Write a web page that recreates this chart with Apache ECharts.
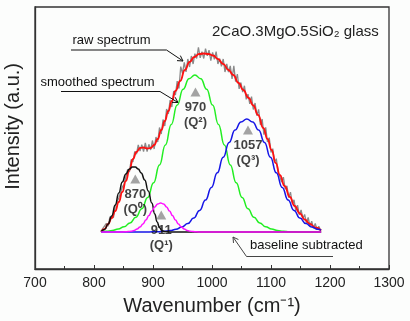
<!DOCTYPE html>
<html><head><meta charset="utf-8">
<script src="https://cdn.jsdelivr.net/npm/echarts@6/dist/echarts.min.js"></script>
<style>html,body{margin:0;padding:0;background:#fcfdfc}#c{width:410px;height:321px}</style>
</head><body><div id="c"></div>
<script>
// x tick labels
const xTicks = [700, 800, 900, 1000, 1100, 1200, 1300];
// raw spectrum [wavenumber, intensity]
const rawSpectrum = [[812,0.5],[815,3.7],[818,2],[821,8.5],[824,6],[827,15],[830,15],[833,14.5],[836,26],[839,24.5],[842,34],[845,32],[848,45],[851,47.5],[854,47],[857,62.5],[860,60],[863,72.5],[866,70],[869,80.5],[872,78],[875,87],[878,81],[881,87.3],[884,80.5],[887,89],[890,80.5],[893,87.7],[896,82],[899,91.5],[902,83],[905,95],[908,90],[911,104.5],[914,98],[917,112.5],[920,106],[923,123],[926,118],[929,132],[932,125],[935,141],[938,137],[941,150.8],[944,143.5],[947,165.4],[950,158.5],[953,169.6],[956,160],[959,173],[962,165],[965,176],[968,168],[971,178.4],[974,173.5],[977,184.6],[980,174.1],[983,180.3],[986,173.5],[989,183.3],[992,176.1],[995,181.8],[998,171.3],[1001,179.7],[1004,172.6],[1007,180.3],[1010,168],[1013,173.3],[1016,165.7],[1019,173],[1022,160],[1025,168],[1028,160],[1031,166.1],[1034,153.2],[1037,166.1],[1040,150.4],[1043,157.8],[1046,143.1],[1049,149.5],[1052,139.9],[1055,146.2],[1058,132.6],[1061,137.9],[1064,128.1],[1067,135.3],[1070,122.5],[1073,129],[1076,116.4],[1079,122.6],[1082,107.3],[1085,113],[1088,97.4],[1091,104.7],[1094,90],[1097,94.3],[1100,79.6],[1103,83.3],[1106,69.7],[1109,73.3],[1112,60.1],[1115,62],[1118,49.9],[1121,54.8],[1124,42.9],[1127,46.1],[1130,34.4],[1133,39.9],[1136,28.5],[1139,32.1],[1142,21.3],[1145,26.8],[1148,17.1],[1151,22],[1154,13.8],[1157,17.5],[1160,9],[1163,14.5],[1166,6],[1169,10.8],[1172,3.7],[1175,8.5],[1178,2.3],[1181,5.7],[1184,1.8]];
// smoothed spectrum
const smoothed = [[812,0.5],[818,3],[824,8],[830,14],[836,21],[842,30],[848,40],[854,51],[860,62],[866,73],[872,80],[878,84],[884,84.5],[890,83.5],[896,84],[902,87],[908,93],[914,102],[920,111],[926,121],[932,131],[938,141],[946,151],[954,162],[962,170],[970,175],[978,178],[986,178.5],[994,178],[1002,176.5],[1010,173],[1019,168],[1028,162],[1036,157],[1045,149],[1053,142],[1062,134],[1070,126.5],[1078,117],[1087,104],[1094,93],[1101,82],[1108,69],[1115,57],[1123,46],[1132,35],[1140,26],[1149,18.5],[1157,12.5],[1166,8],[1175,4.5],[1185,1.5]];
// Q0 band (870)
const bandQ0 = [[812,0.3],[818,2.5],[824,8],[830,16],[836,27],[842,39],[848,50],[854,58],[860,63],[865,65],[870,65],[875,63],[880,59],[886,52],[892,41],[898,29],[903,18],[907,10],[911,4.5],[915,1.5],[920,0.4],[930,0],[1185,0]];
// Q1 band (911)
const bandQ1 = [[812,0],[843,0],[853,0.17],[858,0.39],[863,0.81],[868,1.6],[873,2.95],[878,5],[883,8],[888,11.9],[893,16.4],[898,21],[903,25.1],[908,28],[913,29],[918,28],[923,25.1],[928,21],[933,16.4],[938,11.9],[943,8],[948,5],[953,2.95],[958,1.6],[963,0.81],[968,0.39],[973,0.17],[983,0],[1185,0]];
// Q2 band (970)
const bandQ2 = [[812,0.4],[821,0.77],[831,1.5],[841,2.9],[851,5.2],[861,9],[871,14.8],[881,23.2],[891,34.6],[901,49.3],[911,67.1],[921,87],[931,107.6],[941,126.9],[951,142.8],[961,153.3],[971,157],[981,153.3],[991,142.8],[1001,126.9],[1011,107.6],[1021,87],[1031,67.1],[1041,49.3],[1051,34.6],[1061,23.2],[1071,14.8],[1081,9],[1091,5.2],[1101,2.9],[1111,1.5],[1121,0.77],[1131,0.37],[1141,0.17],[1151,0.07],[1185,0]];
// Q3 band (1057)
const bandQ3 = [[812,0],[879,0],[889,0.06],[899,0.15],[909,0.34],[919,0.72],[929,1.4],[939,2.7],[949,5],[959,8.5],[969,13.9],[979,21.6],[989,31.9],[999,44.6],[1009,59.2],[1019,74.8],[1029,89.6],[1039,101.9],[1049,110.1],[1059,113],[1069,110.1],[1079,101.9],[1089,89.6],[1099,74.8],[1109,59.2],[1119,44.6],[1129,31.9],[1139,21.6],[1149,13.9],[1159,8.5],[1169,5],[1179,2.7],[1185,1.9]];
// peak markers and labels
const peakMarks = [[870,53],[914,17],[972,140],[1061,102]];
const peakNames = ['870','911','970','1057'];
const peakQ = ['(Q\u2070)','(Q\u00b9)','(Q\u00b2)','(Q\u00b3)'];

const FF = "'Liberation Sans', Arial, sans-serif";
const chart = echarts.init(document.getElementById('c'), null, {renderer:'canvas'});

function arrowHead(tip, dir){
  const L = 6, a = Math.PI/6;
  const n = Math.hypot(dir[0],dir[1]);
  const bx = -dir[0]/n, by = -dir[1]/n;
  const r = t => [tip[0] + L*(bx*Math.cos(t) - by*Math.sin(t)), tip[1] + L*(bx*Math.sin(t) + by*Math.cos(t))];
  return [r(a), tip, r(-a)];
}
function ann(text, tx, ty, pts, color){
  const last = pts[pts.length-1], prev = pts[pts.length-2];
  return [
    {type:'text', left: tx, top: ty-8, style:{text: text, font: '13px ' + FF, fill:'#111'}, z:10},
    {type:'polyline', shape:{points: pts}, style:{stroke: color, lineWidth: 1, fill: null}, z:10},
    {type:'polyline', shape:{points: arrowHead(last, [last[0]-prev[0], last[1]-prev[1]])}, style:{stroke: color, lineWidth: 1, fill: null}, z:10}
  ];
}

const lineBase = {type:'line', showSymbol:false, animation:false, smooth:0.5, smoothMonotone:'x'};

chart.setOption({
  backgroundColor: '#fcfdfc',
  animation: false,
  title: {text: '2CaO.3MgO.5SiO\u2082 glass', left: 207, top: 19,
    textStyle: {fontFamily: FF, fontSize: 15, fontWeight: 'normal', color: '#222'}},
  grid: {left: 35, right: 21, top: 7, bottom: 52, show: true, borderColor: '#333', borderWidth: 1.3, backgroundColor: 'transparent'},
  xAxis: {type: 'value', min: xTicks[0], max: xTicks[xTicks.length-1], interval: 100,
    axisLine: {show: true, onZero: false, lineStyle: {color: '#333', width: 1.3}},
    axisTick: {show: true, inside: true, length: 4, lineStyle: {color: '#333'}},
    minorTick: {show: true, splitNumber: 2, length: 3, lineStyle: {color: '#333'}},
    splitLine: {show: false},
    axisLabel: {fontFamily: FF, fontSize: 14, color: '#222', margin: 7, formatter: v => String(v)},
    name: 'Wavenumber (cm\u207b\u00b9)', nameLocation: 'middle', nameGap: 27,
    nameTextStyle: {fontFamily: FF, fontSize: 20, color: '#222'}},
  yAxis: {type: 'value', min: -37, max: 225,
    axisLine: {show: true, onZero: false, lineStyle: {color: '#333', width: 1.3}},
    axisTick: {show: false}, axisLabel: {show: false}, splitLine: {show: false}},
  graphic: [
    {type:'text', left: 3, top: 63, rotation: Math.PI/2,
      style:{text: 'Intensity (a.u.)', font: '20px ' + FF, fill:'#222'}},
    ...ann('raw spectrum', 72.5, 41.5, [[71,50],[166.5,50],[183,61]], '#111'),
    ...ann('smoothed spectrum', 40.5, 83.5, [[61,91.5],[160,91.5],[178,102.5]], '#111'),
    ...ann('baseline subtracted', 250, 246.5, [[333,256.5],[246.5,256.5],[233,237]], '#444')
  ],
  series: [
    Object.assign({}, lineBase, {name:'raw', data: rawSpectrum, smooth: false, lineStyle:{color:'#8a8a8a', width:1.3}, z:1}),
    Object.assign({}, lineBase, {name:'smoothed', data: smoothed, lineStyle:{color:'#ff1010', width:1.8}, z:2}),
    Object.assign({}, lineBase, {name:'Q2', data: bandQ2, lineStyle:{color:'#22ee22', width:1.5}, z:3}),
    Object.assign({}, lineBase, {name:'Q3', data: bandQ3, lineStyle:{color:'#1515e6', width:1.5}, z:3}),
    Object.assign({}, lineBase, {name:'Q0', data: bandQ0, lineStyle:{color:'#111', width:1.5}, z:3}),
    Object.assign({}, lineBase, {name:'Q1', data: bandQ1, lineStyle:{color:'#ff10ff', width:1.5}, z:4}),
    {type:'scatter', animation:false, symbol:'triangle', symbolSize:[10,9], z:5,
      itemStyle:{color:'#8c8c8c'},
      data: peakMarks.map((p,i) => ({value: p, label: {formatter: '{a|' + peakNames[i] + '}\n{a|' + peakQ[i] + '}'}})),
      label: {show: true, position: 'bottom', distance: 3,
        rich: {a: {fontFamily: FF, fontSize: 13, fontWeight: 'bold', color: '#111', lineHeight: 15, align: 'center'}}}}
  ]
});
</script></body></html>
